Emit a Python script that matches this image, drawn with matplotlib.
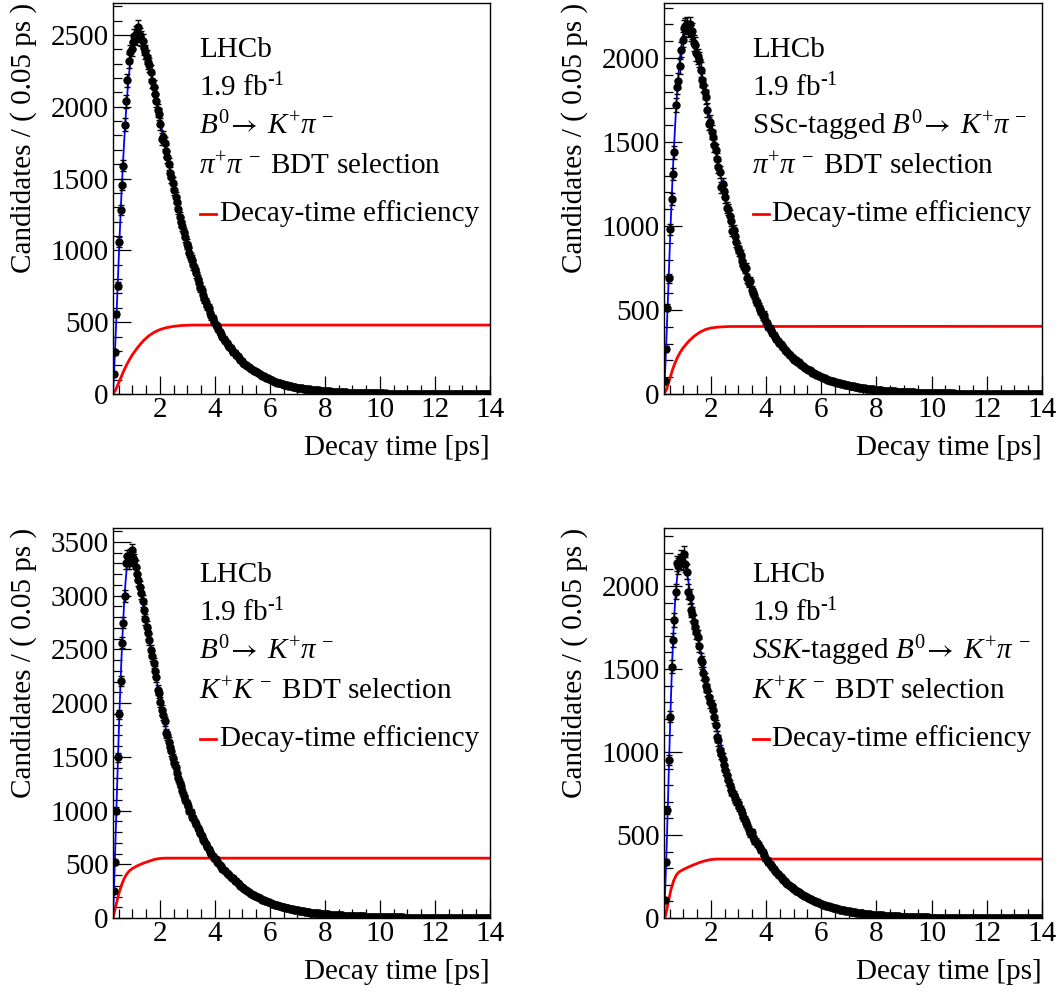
import numpy as np
import matplotlib
matplotlib.use("Agg")
import matplotlib.pyplot as plt
from matplotlib.ticker import MultipleLocator
from matplotlib.lines import Line2D

plt.rcParams['font.family'] = ['Liberation Serif', 'DejaVu Serif']
plt.rcParams['mathtext.fontset'] = 'custom'
plt.rcParams['mathtext.rm'] = 'Liberation Serif'
plt.rcParams['mathtext.it'] = 'Liberation Serif:italic'
plt.rcParams['mathtext.bf'] = 'Liberation Serif:bold'
plt.rcParams['mathtext.sf'] = 'STIXGeneral'
plt.rcParams['mathtext.fallback'] = 'stix'

# ---------------- binning ----------------
BIN_START = 0.3
BIN_WIDTH = 0.05
X_RANGE = (0.3, 14.0)

# ---------------- data: candidates per 0.05 ps bin ----------------
counts_pipi = [
    140, 290, 557, 755, 1057, 1280, 1457, 1590, 1875, 2037, 2184, 2316,
    2380, 2400, 2450, 2490, 2509, 2480, 2555, 2500, 2474, 2460, 2410, 2381,
    2346, 2310, 2290, 2242, 2180, 2137, 2090, 2040, 1975, 1950, 1880, 1777,
    1790, 1745, 1690, 1650, 1600, 1540, 1510, 1470, 1420, 1370, 1336, 1290,
    1230, 1196, 1170, 1125, 1090, 1045,
    1020, 985, 950, 935, 895, 870, 840, 800, 772, 735, 725, 690, 660, 640, 610, 600, 565, 540, 528, 500,
    480, 470, 450, 430, 420, 400, 385, 372, 355, 342, 330, 322, 305, 290, 286, 270, 262, 250, 240, 228,
    218, 210, 205, 193, 186, 180, 175, 170, 162, 158, 150, 146, 138, 132, 128, 122, 118, 113, 110, 104,
    100, 96, 93, 87, 85, 80, 78, 75, 70, 71, 66, 63, 62, 58, 57, 53, 52, 50, 48, 45,
    44, 43, 41, 40, 37, 38, 35, 34, 33, 31, 30, 30, 28, 27, 27, 25, 24, 24, 22, 21,
    21, 19, 20, 18, 17, 17, 16, 15, 15, 14, 14, 13, 13, 12, 11, 12, 10, 10, 10, 9,
    9, 9, 8, 8, 8, 7, 7, 7, 6, 7, 6, 6, 5, 6, 5, 5, 5, 4, 5, 4,
    4, 4, 4, 3, 4, 3, 3, 3, 3, 3, 2, 3, 3, 2, 2, 3, 2, 2, 2, 2,
    2, 2, 1, 2, 2, 1, 2, 1, 1, 2, 1, 1, 1, 2, 1, 1, 1, 1, 1, 1,
    1, 1, 1, 0, 1, 1, 1, 0, 1, 1, 0, 1, 1, 0, 1, 0, 1, 0, 1, 0,
    1, 0, 0, 1, 0, 1, 0, 0, 1, 0, 0, 1, 0, 0, 0, 1, 0, 0, 1, 0,
]

counts_ssc = [
    80, 270, 514, 690, 980, 1160, 1310, 1440, 1720, 1826, 1866, 1950, 2050, 2110, 2180, 2190,
    2200, 2170, 2200, 2150, 2160, 2090, 2080, 2030, 2010, 1990, 1930, 1870, 1840, 1800, 1770, 1690, 1610, 1620,
    1560, 1530, 1480, 1450, 1400, 1350, 1320, 1230, 1250, 1210, 1170, 1110, 1100, 1060, 1030, 970, 975, 940, 905, 870,
    850, 830, 790, 770, 745, 750, 690, 660, 670, 620, 600, 590, 555, 545, 520, 500, 490, 465, 470, 440,
    420, 400, 390, 380, 362, 350, 340, 325, 318, 305, 295, 284, 278, 262, 258, 248, 236, 230, 220, 212,
    205, 200, 190, 188, 180, 174, 165, 160, 156, 150, 143, 140, 135, 128, 125, 122, 116, 112, 110, 104,
    100, 98, 93, 90, 86, 85, 80, 78, 76, 72, 70, 68, 66, 63, 62, 60, 57, 56, 53, 51,
    49, 48, 45, 45, 42, 41, 40, 38, 37, 35, 35, 33, 32, 30, 30, 29, 27, 27, 26, 25,
    24, 23, 22, 22, 20, 20, 19, 19, 18, 17, 16, 16, 15, 15, 14, 14, 13, 13, 12, 12,
    11, 11, 10, 10, 10, 9, 9, 9, 8, 8, 8, 7, 7, 7, 6, 6, 6, 6, 5, 5,
    5, 5, 4, 5, 4, 4, 4, 4, 3, 4, 3, 3, 3, 3, 3, 2, 3, 2, 2, 2,
    2, 2, 2, 2, 2, 1, 2, 2, 1, 1, 2, 1, 1, 1, 1, 1, 1, 1, 1, 1,
    1, 1, 0, 1, 1, 1, 0, 1, 1, 0, 1, 0, 1, 1, 0, 1, 0, 0, 1, 0,
    1, 0, 0, 1, 0, 0, 1, 0, 0, 1, 0, 0, 0, 1, 0, 0, 0, 1, 0, 0,
]

counts_kk = [
    248, 518, 998, 1494, 1897, 2207, 2564, 2750, 3000, 3308, 3370,
    3305, 3380, 3426, 3350, 3330,
    3271, 3200, 3147, 3085, 3023, 2950, 2868, 2780, 2712, 2651, 2590, 2495, 2440, 2371, 2300, 2240, 2123, 2090,
    2010, 1937, 1890, 1830, 1720, 1700, 1640, 1595, 1550, 1490, 1440, 1410, 1350, 1300, 1254, 1230, 1180, 1140, 1100, 1068,
    1040, 1000, 985, 943, 930, 890, 875, 835, 815, 789, 760, 730, 715, 685, 665, 640, 615, 600, 575, 556,
    545, 525, 512, 490, 480, 460, 447, 440, 420, 408, 400, 385, 376, 370, 348, 340, 322, 315, 300, 290,
    280, 272, 258, 252, 240, 230, 225, 215, 212, 202, 195, 192, 182, 178, 170, 168, 160, 155, 150, 146,
    140, 134, 132, 125, 122, 119, 113, 110, 105, 104, 98, 97, 92, 90, 86, 85, 80, 78, 76, 73,
    72, 68, 66, 65, 61, 60, 58, 55, 55, 51, 50, 49, 46, 47, 44, 43, 40, 41, 38, 37,
    36, 35, 34, 32, 32, 31, 30, 28, 28, 27, 26, 25, 24, 23, 23, 22, 21, 20, 20, 19,
    18, 18, 17, 16, 16, 15, 15, 14, 14, 13, 13, 12, 12, 11, 11, 10, 10, 10, 9, 9,
    9, 8, 8, 8, 7, 7, 7, 7, 6, 6, 6, 6, 5, 5, 5, 5, 5, 4, 4, 4,
    4, 4, 4, 3, 3, 3, 3, 3, 3, 3, 3, 2, 2, 2, 2, 2, 2, 2, 2, 2,
    2, 2, 1, 2, 1, 2, 1, 1, 2, 1, 1, 1, 1, 1, 1, 1, 1, 0, 1, 1,
    1, 1, 0, 1, 1, 0, 1, 0, 1, 0, 1, 0, 0, 1, 0, 1, 0, 0, 1, 0,
]

counts_ssk = [
    108, 339, 650, 952, 1213, 1514, 1675, 1795, 1966, 2137, 2120, 2147, 2167, 2140, 2193,
    2130, 2086, 1966, 1936, 1855, 1830, 1780, 1755, 1720, 1695, 1640, 1554, 1540, 1474, 1440, 1400, 1373, 1330, 1300,
    1280, 1253, 1210, 1160, 1092, 1070, 1012, 990, 960, 920, 892, 860, 830, 800, 771, 760, 740, 720, 705, 691,
    670, 650, 630, 610, 590, 575, 560, 530, 510, 515, 490, 470, 460, 450, 435, 420, 410, 395, 380, 362,
    350, 340, 328, 318, 305, 296, 285, 275, 265, 256, 248, 238, 229, 222, 212, 205, 198, 192, 185, 178,
    172, 165, 160, 154, 149, 143, 138, 133, 130, 125, 120, 116, 114, 108, 104, 100, 98, 94, 90, 87,
    84, 80, 78, 75, 72, 70, 67, 64, 62, 58, 58, 55, 53, 51, 50, 48, 46, 45, 43, 41,
    40, 38, 37, 35, 34, 33, 32, 30, 29, 28, 27, 26, 25, 24, 23, 22, 21, 21, 20, 19,
    18, 18, 17, 16, 16, 15, 14, 14, 13, 13, 12, 12, 11, 11, 10, 10, 10, 9, 9, 8,
    8, 8, 7, 7, 7, 6, 6, 6, 6, 5, 5, 5, 5, 4, 4, 4, 4, 4, 3, 3,
    3, 3, 3, 3, 3, 2, 2, 3, 2, 2, 2, 2, 2, 2, 1, 2, 2, 1, 1, 2,
    1, 1, 1, 1, 2, 1, 1, 1, 1, 1, 1, 0, 1, 1, 1, 1, 0, 1, 1, 0,
    1, 0, 1, 1, 0, 1, 0, 1, 0, 0, 1, 0, 1, 0, 0, 1, 0, 0, 1, 0,
    0, 1, 0, 0, 1, 0, 0, 0, 1, 0, 0, 0, 1, 0, 0, 0, 0, 1, 0, 0,
]

# ---------------- fitted decay-time model (blue) ----------------
fit_t = [0.30, 0.35, 0.40, 0.45, 0.50, 0.55, 0.60, 0.65, 0.70, 0.75, 0.80, 0.85, 0.90, 0.95,
         1.00, 1.10, 1.20, 1.30, 1.40, 1.50, 1.60, 1.70, 1.80, 1.90, 2.00, 2.20, 2.40, 2.60,
         2.80, 3.00, 3.25, 3.50, 3.75, 4.00, 4.50, 5.00, 5.50, 6.00, 6.50, 7.00, 8.00, 9.00,
         10.0, 11.0, 12.0, 13.0, 14.0]
fit_pipi = [0, 200, 420, 660, 900, 1140, 1360, 1560, 1740, 1900, 2040, 2160, 2260, 2340,
            2410, 2490, 2515, 2490, 2440, 2375, 2295, 2210, 2120, 2020, 1920, 1720, 1530, 1350,
            1190, 1045, 875, 730, 608, 490, 330, 220, 150, 100, 68, 45, 21, 9,
            4, 2, 1, 0.4, 0.2]
fit_ssc = [0, 170, 380, 600, 830, 1050, 1250, 1430, 1590, 1730, 1850, 1950, 2030, 2090,
           2140, 2190, 2195, 2155, 2095, 2020, 1940, 1860, 1775, 1685, 1595, 1420, 1260, 1115,
           990, 875, 745, 630, 530, 440, 305, 212, 150, 104, 72, 50, 24, 12,
           5, 2.5, 1.2, 0.6, 0.3]
fit_kk = [0, 380, 800, 1230, 1650, 2030, 2370, 2660, 2910, 3110, 3260, 3350, 3390, 3395,
          3380, 3310, 3180, 3050, 2900, 2750, 2610, 2475, 2335, 2190, 2045, 1785, 1565, 1385,
          1200, 1055, 915, 775, 650, 552, 405, 285, 205, 142, 101, 72, 37, 19,
          9, 4, 2, 1, 0.5]
fit_ssk = [0, 200, 450, 740, 1040, 1320, 1560, 1750, 1900, 2010, 2090, 2140, 2165, 2170,
           2160, 2110, 2010, 1910, 1815, 1720, 1630, 1545, 1460, 1380, 1300, 1150, 1020, 895,
           790, 690, 585, 500, 430, 365, 250, 172, 120, 84, 58, 40, 19, 8.5,
           3.5, 1.7, 0.8, 0.4, 0.2]

# ---------------- decay-time efficiency (red, arbitrary scale) ----------------
eff_t_pipi = [0.3, 0.4, 0.5, 0.6, 0.7, 0.8, 0.9, 1.0, 1.2, 1.4, 1.6, 1.8, 2.0, 2.2, 2.5, 2.8, 3.2, 14.0]
eff_pipi = [0, 30, 75, 120, 165, 205, 240, 272, 325, 370, 405, 430, 448, 460, 471, 477, 480, 480]
eff_t_ssc = [0.3, 0.4, 0.5, 0.6, 0.7, 0.8, 0.9, 1.0, 1.2, 1.4, 1.6, 1.8, 2.0, 2.3, 2.7, 14.0]
eff_ssc = [0, 30, 85, 140, 185, 222, 252, 276, 315, 345, 368, 384, 393, 399, 402, 403]
eff_t_kk = [0.3, 0.4, 0.5, 0.6, 0.7, 0.8, 0.9, 1.0, 1.2, 1.4, 1.6, 1.8, 2.0, 2.2, 14.0]
eff_kk = [0, 110, 215, 300, 365, 410, 440, 460, 488, 510, 528, 545, 554, 557, 557]
eff_t_ssk = [0.3, 0.35, 0.45, 0.55, 0.65, 0.75, 0.85, 1.0, 1.2, 1.4, 1.6, 1.8, 2.0, 2.2, 14.0]
eff_ssk = [0, 10, 90, 170, 225, 260, 278, 292, 308, 322, 335, 345, 352, 355, 355]

# ---------------- labels ----------------
decay = r"$B^{0}\!\mathsf{\rightarrow}\;K^{+}\pi^{\,-}$"
line_lhcb = "LHCb"
line_lumi = r"1.9 fb$^{\text{-}1}$"
label_pipi = [decay, r"$\pi^{+}\pi^{\,-}$ BDT selection"]
label_ssc = ["SSc-tagged " + decay, r"$\pi^{+}\pi^{\,-}$ BDT selection"]
label_kk = [decay, r"$K^{+}K^{\,-}$ BDT selection"]
label_ssk = [r"$SSK$-tagged " + decay, r"$K^{+}K^{\,-}$ BDT selection"]
legend_text = "Decay-time efficiency"
xlabel = "Decay time [ps]"
ylabel = "Candidates / ( 0.05 ps )"

W, H = 1056, 993
fig = plt.figure(figsize=(W / 100, H / 100), dpi=100)

FS = 21
panels = [
    dict(rect=(113, 3, 490, 394), counts=counts_pipi, fit=fit_pipi, et=eff_t_pipi, ev=eff_pipi,
         ymax=2722, labels=label_pipi, tx=0.229),
    dict(rect=(664, 3, 1042, 394), counts=counts_ssc, fit=fit_ssc, et=eff_t_ssc, ev=eff_ssc,
         ymax=2328, labels=label_ssc, tx=0.232),
    dict(rect=(113, 528, 490, 918), counts=counts_kk, fit=fit_kk, et=eff_t_kk, ev=eff_kk,
         ymax=3630, labels=label_kk, tx=0.229),
    dict(rect=(664, 528, 1042, 918), counts=counts_ssk, fit=fit_ssk, et=eff_t_ssk, ev=eff_ssk,
         ymax=2349, labels=label_ssk, tx=0.232),
]

for p in panels:
    x0, y0, x1, y1 = p['rect']
    hpx = y1 - y0
    ax = fig.add_axes([x0 / W, 1 - y1 / H, (x1 - x0) / W, hpx / H])
    y = np.array(p['counts'], dtype=float)
    t = BIN_START + BIN_WIDTH * (np.arange(len(y)) + 0.5)
    lo = np.sqrt(y)
    hi = np.where(y > 0, np.sqrt(y), 1.15)

    ax.plot(p['et'], p['ev'], color='#ff0000', lw=2.0, zorder=2)
    ax.plot(fit_t, p['fit'], color='#0000ff', lw=1.3, zorder=2.5)
    ax.errorbar(t, y, yerr=[lo, hi], xerr=BIN_WIDTH / 2, fmt='o', ms=5.0, color='black',
                ecolor='black', elinewidth=1.0, capsize=2.0, capthick=1.0, zorder=3,
                clip_on=True)

    ax.set_xlim(*X_RANGE)
    ax.set_ylim(0, p['ymax'])
    ax.xaxis.set_major_locator(MultipleLocator(2))
    ax.xaxis.set_minor_locator(MultipleLocator(0.5))
    ax.yaxis.set_major_locator(MultipleLocator(500))
    ax.yaxis.set_minor_locator(MultipleLocator(100))
    ax.tick_params(which='both', direction='in', top=False, right=False, width=0.9)
    ax.tick_params(which='major', length=13)
    ax.tick_params(which='minor', length=6.5)
    ax.tick_params(axis='x', which='major', pad=2, labelsize=FS)
    ax.tick_params(axis='y', which='major', pad=3, labelsize=FS)
    for s in ax.spines.values():
        s.set_linewidth(1.0)

    ax.text(1.0, -61 / hpx, xlabel, transform=ax.transAxes, ha='right', va='baseline', fontsize=FS)
    ax.text(-89 / (x1 - x0), 1.0, ylabel, transform=ax.transAxes, ha='center', va='top',
            rotation=90, fontsize=FS)

    tx = p['tx']
    lines = [line_lhcb, line_lumi] + p['labels']
    offs = [54, 93, 131, 171]
    for s, o in zip(lines, offs):
        ax.text(tx, 1 - o / hpx, s, transform=ax.transAxes, ha='left', va='baseline', fontsize=FS)
    ly = 1 - 211 / hpx
    ax.add_line(Line2D([tx + 0.003, tx + 0.045], [ly, ly], transform=ax.transAxes,
                       color='#ff0000', lw=2.0))
    ax.text(tx + 0.055, 1 - 218 / hpx, legend_text, transform=ax.transAxes, ha='left',
            va='baseline', fontsize=FS)

fig.savefig("out.png", dpi=100)
